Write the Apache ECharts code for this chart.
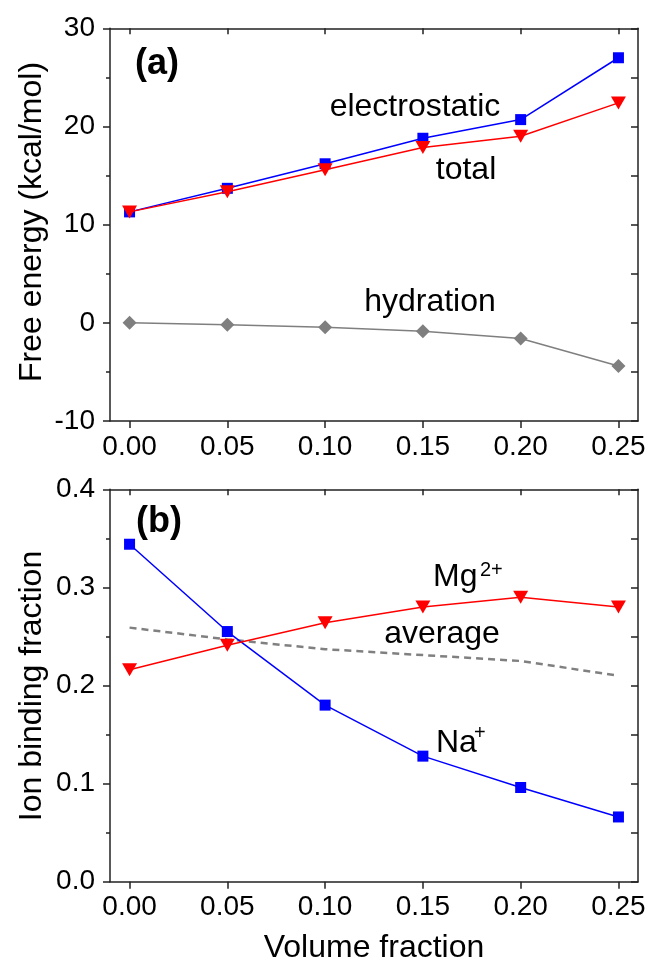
<!DOCTYPE html>
<html>
<head>
<meta charset="utf-8">
<script src="https://cdn.jsdelivr.net/npm/echarts@6/dist/echarts.min.js"></script>
<style>
html,body{margin:0;padding:0;background:#fff;}
#c{width:650px;height:969px;}
</style>
</head>
<body>
<div id="c"></div>
<script>
// ---- data ----
const volumeFraction = [0.00, 0.05, 0.10, 0.15, 0.20, 0.25];
const electrostatic = [11.3, 13.7, 16.2, 18.8, 20.7, 27.0];
const total = [11.3, 13.35, 15.6, 17.85, 19.0, 22.4];
const hydration = [0.0, -0.2, -0.45, -0.85, -1.6, -4.4];
const naBinding = [0.344, 0.255, 0.180, 0.128, 0.096, 0.066];
const mgBinding = [0.216, 0.241, 0.264, 0.280, 0.290, 0.280];
const avgBinding = [0.259, 0.247, 0.237, 0.231, 0.225, 0.210];
const xTicks = [0.00, 0.05, 0.10, 0.15, 0.20, 0.25];
const energyTicks = [-10, 0, 10, 20, 30];
const fractionTicks = [0.0, 0.1, 0.2, 0.3, 0.4];

const pairs = (ys) => volumeFraction.map((x, i) => [x, ys[i]]);

const AX = '#222';
const tickFont = {fontFamily: 'Liberation Sans', fontSize: 28, color: '#000'};
const textFont = 'Liberation Sans';

function xAxes(gi, showLabels) {
  return [
    {
      type: 'value', gridIndex: gi, position: 'bottom', min: -0.01, max: 0.26,
      axisLine: {show: true, onZero: false, lineStyle: {color: AX, width: 1.5}},
      axisTick: {show: true, inside: false, length: 7, customValues: xTicks, lineStyle: {color: AX, width: 1.5}},
      axisLabel: {show: showLabels, customValues: xTicks, margin: 12, formatter: v => v.toFixed(2), ...tickFont},
      splitLine: {show: false}
    },
    {
      type: 'value', gridIndex: gi, position: 'top', min: -0.01, max: 0.26,
      axisLine: {show: true, onZero: false, lineStyle: {color: AX, width: 1.5}},
      axisTick: {show: true, inside: true, length: 6, customValues: xTicks, lineStyle: {color: AX, width: 1.5}},
      axisLabel: {show: false},
      splitLine: {show: false}
    }
  ];
}
function yAxes(gi, min, max, interval, ticks, fmt) {
  return [
    {
      type: 'value', gridIndex: gi, position: 'left', min: min, max: max, interval: interval,
      axisLine: {show: true, onZero: false, lineStyle: {color: AX, width: 1.5}},
      axisTick: {show: true, inside: false, length: 7, lineStyle: {color: AX, width: 1.5}},
      minorTick: {show: true, splitNumber: 2, length: 4, lineStyle: {color: AX, width: 1.5}},
      axisLabel: {show: true, margin: 15, formatter: fmt, ...tickFont},
      splitLine: {show: false}, minorSplitLine: {show: false}
    },
    {
      type: 'value', gridIndex: gi, position: 'right', min: min, max: max, interval: interval,
      axisLine: {show: true, onZero: false, lineStyle: {color: AX, width: 1.5}},
      axisTick: {show: true, inside: true, length: 7, lineStyle: {color: AX, width: 1.5}},
      minorTick: {show: true, splitNumber: 2, length: 7, lineStyle: {color: AX, width: 1.5}},
      axisLabel: {show: false},
      splitLine: {show: false}, minorSplitLine: {show: false}
    }
  ];
}

function txt(text, x, y, size, opts) {
  opts = opts || {};
  return {
    type: 'text', x: x, y: y, rotation: opts.rotation || 0, z: 100,
    style: {
      text: text, x: 0, y: 0, fill: '#000',
      font: (opts.bold ? 'bold ' : '') + size + 'px "' + (opts.family || textFont) + '"',
      align: opts.align || 'center', verticalAlign: 'middle'
    }
  };
}

const chart = echarts.init(document.getElementById('c'), null, {renderer: 'canvas'});
chart.setOption({
  animation: false,
  backgroundColor: '#fff',
  grid: [
    {left: 110, right: 12, top: 28.3, height: 392.7, containLabel: false},
    {left: 110, right: 12, top: 489.3, height: 392.4, containLabel: false}
  ],
  xAxis: [...xAxes(0, true), ...xAxes(1, true)],
  yAxis: [
    ...yAxes(0, -10, 30, 10, energyTicks, v => String(v)),
    ...yAxes(1, 0, 0.4, 0.1, fractionTicks, v => v.toFixed(1))
  ],
  series: [
    {type: 'line', name: 'electrostatic', xAxisIndex: 0, yAxisIndex: 0, data: pairs(electrostatic),
      symbol: 'rect', symbolSize: 11, lineStyle: {color: '#0000ff', width: 1.5}, itemStyle: {color: '#0000ff'}, z: 2},
    {type: 'line', name: 'total', xAxisIndex: 0, yAxisIndex: 0, data: pairs(total),
      symbol: 'triangle', symbolRotate: 180, symbolSize: [15, 13], lineStyle: {color: '#ff0000', width: 1.5}, itemStyle: {color: '#ff0000'}, z: 3},
    {type: 'line', name: 'hydration', xAxisIndex: 0, yAxisIndex: 0, data: pairs(hydration),
      symbol: 'diamond', symbolSize: 14, lineStyle: {color: '#7f7f7f', width: 1.5}, itemStyle: {color: '#7f7f7f'}, z: 2},
    {type: 'line', name: 'average', xAxisIndex: 2, yAxisIndex: 2, data: pairs(avgBinding),
      showSymbol: false, symbol: 'none', lineStyle: {color: '#808080', width: 2.5, type: [7, 5]}, z: 1},
    {type: 'line', name: 'Na+', xAxisIndex: 2, yAxisIndex: 2, data: pairs(naBinding),
      symbol: 'rect', symbolSize: 11, lineStyle: {color: '#0000ff', width: 1.5}, itemStyle: {color: '#0000ff'}, z: 2},
    {type: 'line', name: 'Mg2+', xAxisIndex: 2, yAxisIndex: 2, data: pairs(mgBinding),
      symbol: 'triangle', symbolRotate: 180, symbolSize: [15, 13], lineStyle: {color: '#ff0000', width: 1.5}, itemStyle: {color: '#ff0000'}, z: 3}
  ],
  graphic: [
    txt('(a)', 157, 64, 36, {bold: true}),
    txt('electrostatic', 415, 107, 32),
    txt('total', 466, 170.5, 32),
    txt('hydration', 430, 302.5, 32),
    txt('(b)', 159, 522, 36, {bold: true}),
    txt('Mg', 433, 577.5, 32, {align: 'left'}),
    txt('2+', 480, 570.5, 20, {align: 'left'}),
    txt('average', 442, 634, 32),
    txt('Na', 436, 743, 32, {align: 'left'}),
    txt('+', 474, 733, 20, {align: 'left'}),
    txt('Free energy (kcal/mol)', 32, 222, 32, {rotation: Math.PI / 2}),
    txt('Ion binding fraction', 32, 686, 32, {rotation: Math.PI / 2}),
    txt('Volume fraction', 374, 948, 32)
  ]
});
</script>
</body>
</html>
